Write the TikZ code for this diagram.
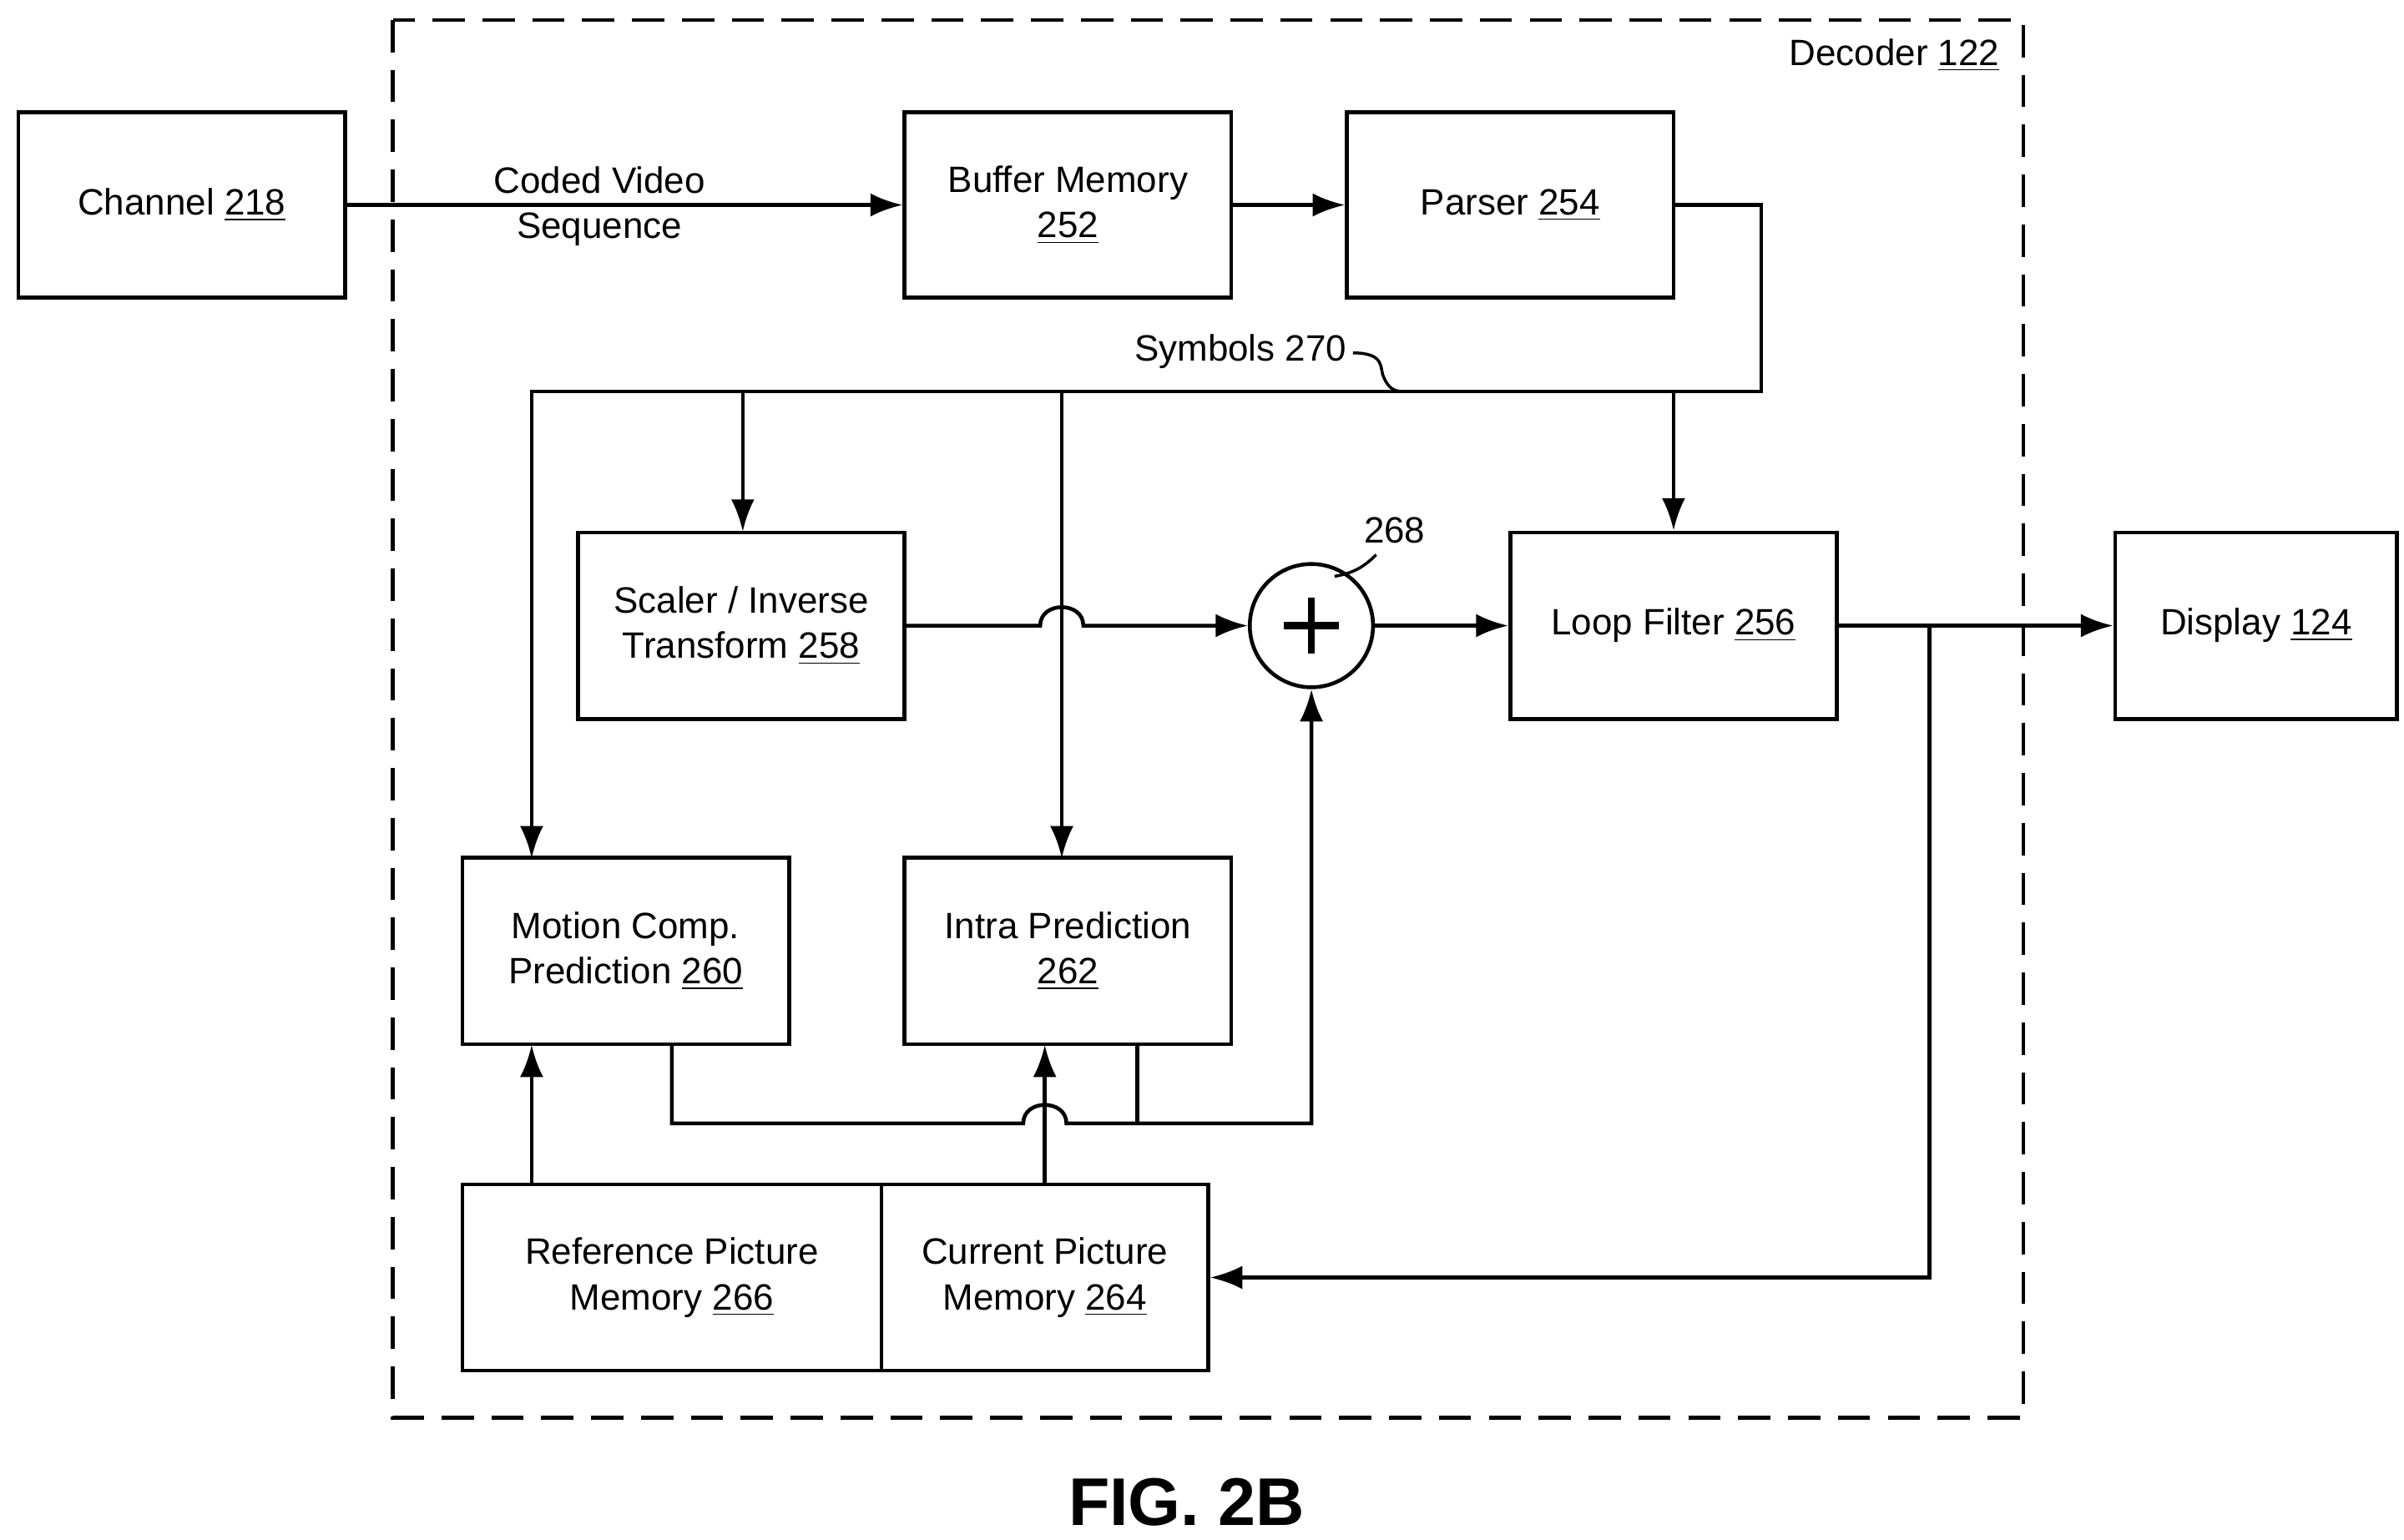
\documentclass[tikz,border=0pt]{standalone}
\usepackage{fontspec}
\setmainfont{Liberation Sans}
\usetikzlibrary{arrows.meta,calc}
\begin{document}
\begin{tikzpicture}[x=0.01846cm,y=-0.01846cm,
  line width=1.3pt,
  every node/.style={font=\fontsize{12.5}{15.5}\selectfont},
  box/.style={draw,align=center,inner sep=0pt},
  arr/.style={-{Latex[length=11pt,width=8pt]}}]
\useasboundingbox (0,0) rectangle (1560,999);
\draw[dash pattern=on 11pt off 6pt] (255,13) rectangle (1313,920);
\node[anchor=east] (dec) at (1305,36) {Decoder \underline{122}};
\node[box,minimum width=212*0.01846cm,minimum height=120*0.01846cm] (ch) at (118,133) {Channel \underline{218}};
\node[box,minimum width=212*0.01846cm,minimum height=120*0.01846cm] (buf) at (693,133) {Buffer Memory\\\underline{252}};
\node[box,minimum width=212*0.01846cm,minimum height=120*0.01846cm] (par) at (980,133) {Parser \underline{254}};
\node[box,minimum width=212*0.01846cm,minimum height=121*0.01846cm] (sc) at (481,406) {Scaler / Inverse\\Transform \underline{258}};
\node[draw,circle,minimum size=80*0.01846cm,inner sep=0pt] (add) at (851,406) {};
\draw[line width=2.4pt] ($(add)+(-18,0)$) -- ($(add)+(18,0)$) ($(add)+(0,-18)$) -- ($(add)+(0,18)$);
\node[box,minimum width=212*0.01846cm,minimum height=121*0.01846cm] (lf) at (1086,406) {Loop Filter \underline{256}};
\node[box,minimum width=183*0.01846cm,minimum height=121*0.01846cm] (dis) at (1464,406) {Display \underline{124}};
\node[box,minimum width=212*0.01846cm,minimum height=121*0.01846cm] (mc) at (406,617) {Motion Comp.\\Prediction \underline{260}};
\node[box,minimum width=212*0.01846cm,minimum height=121*0.01846cm] (ip) at (693,617) {Intra Prediction\\\underline{262}};
\node[box,minimum width=272*0.01846cm,minimum height=121*0.01846cm] (rp) at (436,829) {Reference Picture\\Memory \underline{266}};
\node[box,minimum width=212*0.01846cm,minimum height=121*0.01846cm] (cp) at (678,829) {Current Picture\\Memory \underline{264}};
\node (fig) at (770,975) {\fontsize{23}{27}\selectfont\bfseries FIG. 2B};
% connectors
\draw[arr] (ch.east) -- (buf.west);
\node[align=center] (cvs) at (389,134) {Coded Video\\Sequence};
\draw[arr] (buf.east) -- (par.west);
\coordinate (p1) at (1143,254);
\draw[arr] (par.east) -| (p1) -- (345,254) -- (345,557);
\draw[arr] (482,254) -- (482,345);
\draw[arr] (689,254) -- (689,557);
\draw[arr] (1086,254) -- (lf.north);
\node (sym) at (805,228) {Symbols 270};
\draw[line width=1pt] (878,229) .. controls (900,229) and (895,240) .. (898,245) .. controls (901,252) and (905,254) .. (910,254);
\draw[arr] (sc.east) -- (675,406) .. controls (675,390) and (703,390) .. (703,406) -- (add.west);
\draw[arr] (add.east) -- (lf.west);
\node (n268) at (905,344) {268};
\draw[line width=1pt] (893,360) .. controls (885,368) and (878,372) .. (866,374);
\draw[arr] (lf.east) -- (dis.west);
\coordinate (b1) at (1252,406);
\draw[arr] (b1) -- (1252,829) -- (cp.east);
\draw[arr] (436,678) -- (436,729) -- (664,729) .. controls (664,713) and (692,713) .. (692,729) -- (851,729) -- (add.south);
\draw (738,678) -- (738,729);
\draw[arr] (678,769) -- (678,678);
\draw[arr] (345,769) -- (345,678);
\end{tikzpicture}
\end{document}
